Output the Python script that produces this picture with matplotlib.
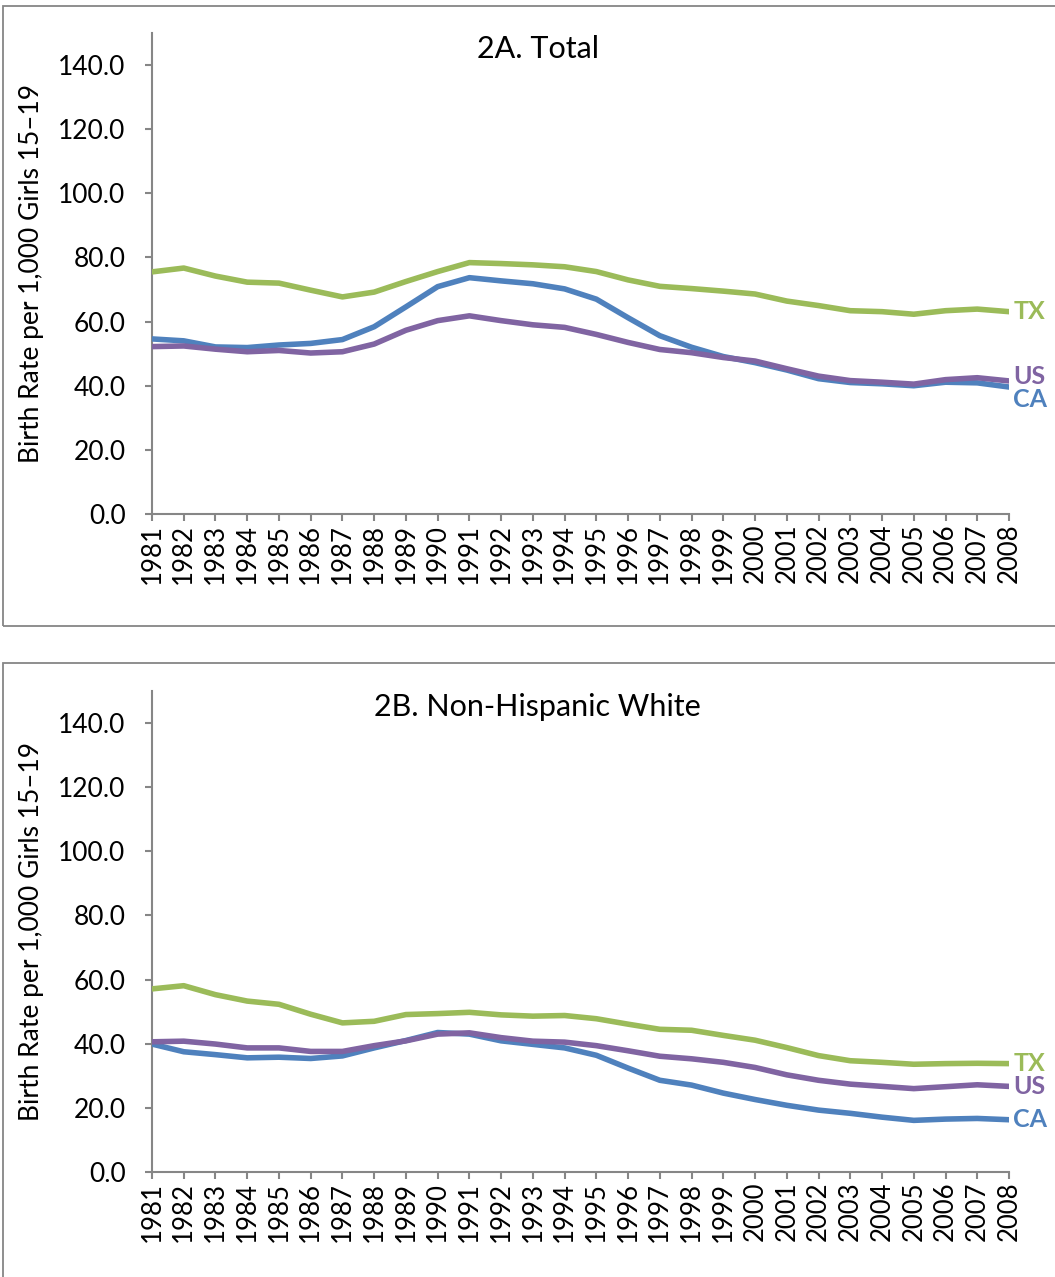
import numpy as np
import matplotlib
matplotlib.use('Agg')
import matplotlib.pyplot as plt
from matplotlib.patches import Rectangle

plt.rcParams['font.family'] = ['Lato', 'DejaVu Sans']

years = list(range(1981, 2009))

# 2A. Total
tx_total = [75.5, 76.7, 74.2, 72.3, 72.0, 69.8, 67.7, 69.2, 72.5, 75.6, 78.4, 78.1, 77.7, 77.1, 75.6,
            73.0, 71.0, 70.3, 69.5, 68.6, 66.4, 65.0, 63.4, 63.1, 62.3, 63.4, 63.9, 63.1]
us_total = [52.2, 52.4, 51.4, 50.6, 51.0, 50.2, 50.6, 53.0, 57.3, 60.3, 61.8, 60.3, 59.0, 58.2, 56.0,
            53.5, 51.3, 50.3, 48.8, 47.7, 45.3, 43.0, 41.6, 41.1, 40.5, 41.9, 42.5, 41.5]
ca_total = [54.6, 54.0, 52.1, 51.9, 52.7, 53.2, 54.4, 58.4, 64.6, 70.9, 73.7, 72.7, 71.8, 70.2, 67.0,
            61.2, 55.6, 52.0, 49.1, 47.2, 44.9, 42.2, 41.0, 40.6, 40.0, 41.1, 40.9, 39.6]

# 2B. Non-Hispanic White
tx_white = [57.1, 58.1, 55.3, 53.3, 52.3, 49.2, 46.5, 47.0, 49.1, 49.4, 49.8, 49.0, 48.6, 48.8, 47.8,
            46.1, 44.5, 44.2, 42.6, 41.1, 38.8, 36.3, 34.7, 34.2, 33.6, 33.8, 33.9, 33.8]
us_white = [40.6, 40.8, 39.9, 38.7, 38.7, 37.6, 37.6, 39.4, 40.9, 43.0, 43.4, 41.9, 40.8, 40.5, 39.4,
            37.8, 36.1, 35.3, 34.2, 32.6, 30.3, 28.6, 27.4, 26.7, 26.0, 26.6, 27.2, 26.7]
ca_white = [39.9, 37.5, 36.6, 35.6, 35.8, 35.4, 36.2, 38.7, 41.0, 43.5, 43.0, 40.9, 39.8, 38.7, 36.4,
            32.4, 28.6, 27.1, 24.6, 22.6, 20.8, 19.3, 18.3, 17.1, 16.1, 16.5, 16.7, 16.3]

panels = [
    ('2A. Total', tx_total, us_total, ca_total),
    ('2B. Non-Hispanic White', tx_white, us_white, ca_white),
]

c_tx = '#9BBB59'
c_us = '#8064A2'
c_ca = '#4F81BD'
grey = '#868686'

W, H = 1055, 1277
fig = plt.figure(figsize=(W / 100, H / 100), dpi=100)

# panel frames (px): top box, bottom box
boxes = [(3, 6, 626), (3, 663, 1290)]
for x0, y0, y1 in boxes:
    fig.patches.append(Rectangle((x0 / W, 1 - y1 / H), (W + 10 - x0) / W, (y1 - y0) / H,
                                 transform=fig.transFigure, fill=False,
                                 edgecolor=grey, lw=1.3, clip_on=False))

# label offsets (points) at line ends: TX, US, CA
offsets = [[(3, 0), (3, 3), (3, -9)], [(3, 0), (3, 0), (3, 0)]]
axes_px = [(152, 1009, 33, 514), (152, 1009, 691, 1172)]

for k, (title, tx, us, ca) in enumerate(panels):
    l, r, t, b = axes_px[k]
    ax = fig.add_axes([l / W, 1 - b / H, (r - l) / W, (b - t) / H])
    ax.plot(years, ca, color=c_ca, lw=4, solid_capstyle='round', zorder=3)
    ax.plot(years, tx, color=c_tx, lw=4, solid_capstyle='round', zorder=3)
    ax.plot(years, us, color=c_us, lw=4, solid_capstyle='round', zorder=4)
    ax.set_xlim(1981, 2008)
    ax.set_ylim(0, 150)
    ax.set_yticks(np.arange(0, 141, 20))
    ax.set_yticklabels(['%.1f' % v for v in np.arange(0, 141, 20)], fontsize=19)
    ax.set_xticks(years)
    ax.set_xticklabels([str(y) for y in years], rotation=90, fontsize=18.5)
    for s in ['top', 'right']:
        ax.spines[s].set_visible(False)
    for s in ['left', 'bottom']:
        ax.spines[s].set_color(grey)
        ax.spines[s].set_linewidth(1.5)
        ax.spines[s].set_clip_on(False)
    ax.tick_params(axis='both', colors=grey, length=5, width=1.5, labelcolor='black')
    ax.tick_params(axis='y', pad=14)
    ax.tick_params(axis='x', pad=2)
    ax.set_ylabel('Birth Rate per 1,000 Girls 15\u201319', fontsize=19, labelpad=10)
    ax.text(0.45, 0.995, title, transform=ax.transAxes, ha='center', va='top', fontsize=22)
    for (name, vals, col), off in zip([('TX', tx, c_tx), ('US', us, c_us), ('CA', ca, c_ca)], offsets[k]):
        ax.annotate(name, (years[-1], vals[-1]), xytext=off, textcoords='offset points',
                    ha='left', va='center', color=col, fontsize=18, fontweight='bold',
                    annotation_clip=False)

plt.savefig('out.png', dpi=100)
